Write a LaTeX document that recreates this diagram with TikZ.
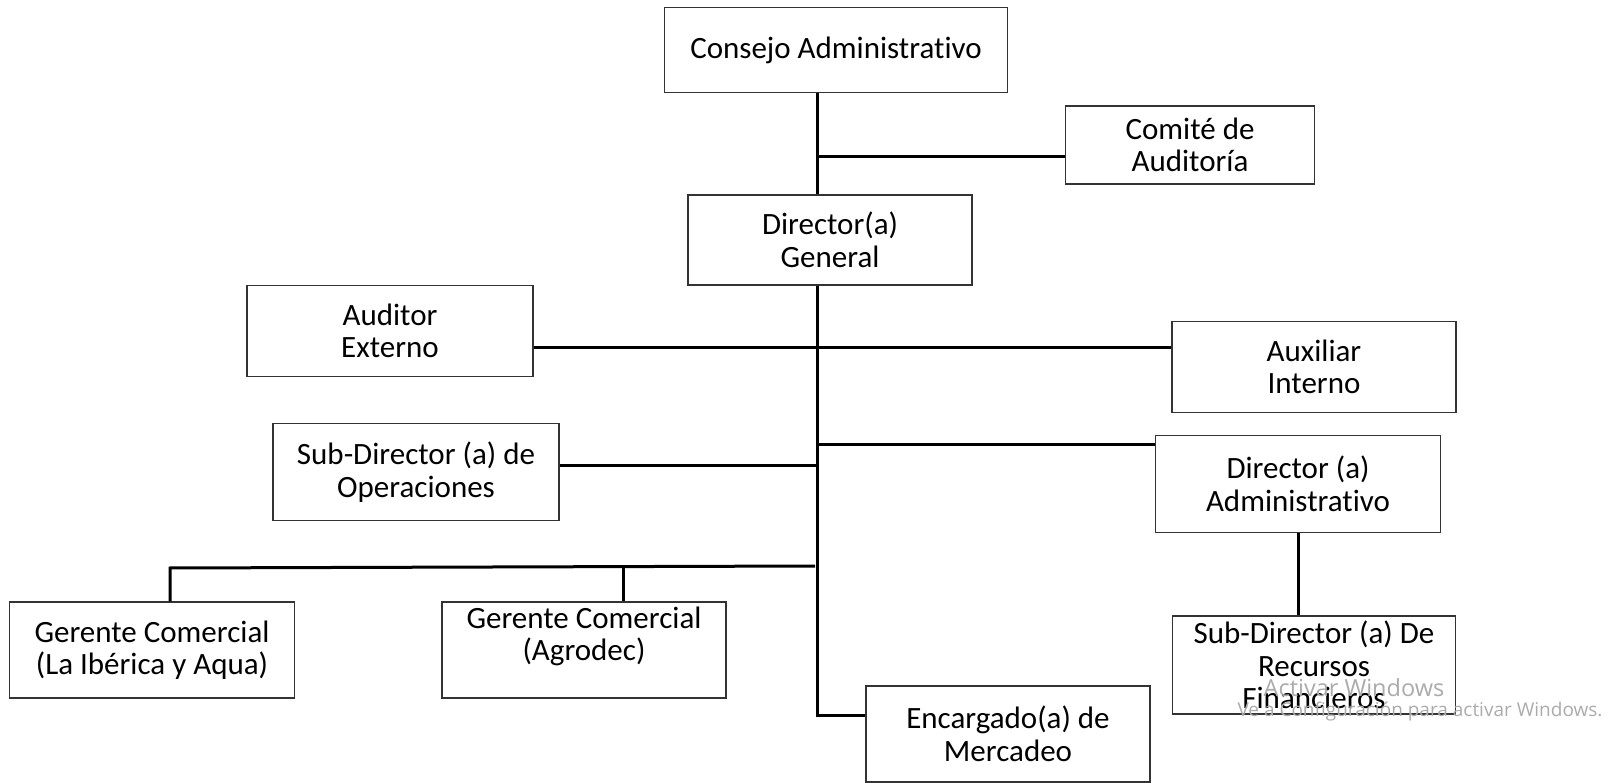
\documentclass[tikz,border=0pt]{standalone}
\usepackage{fontspec}
\setmainfont{Carlito}[Ligatures={NoCommon}]
\newfontfamily\wmfont{Open Sans}
\begin{document}
\begin{tikzpicture}[x=1pt,y=-1pt,
  box/.style={draw=black!80, line width=1.3pt, fill=white, inner sep=0pt, align=center,
    font=\fontsize{31}{32.5}\selectfont, minimum width=284pt},
  conn/.style={line width=3pt, black}]
\useasboundingbox (0,0) rectangle (1610,783);
% boxes
\node[box, minimum width=343pt, minimum height=85pt] (consejo) at (836,50) {Consejo Administrativo};
\node[box, minimum width=249pt, minimum height=78pt] (comite) at (1190,145) {Comité de\\Auditoría};
\node[box, minimum height=90pt] (dirgen) at (830,240) {Director(a)\\General};
\node[box, minimum width=286pt, minimum height=91pt] (audext) at (390,331) {Auditor\\Externo};
\node[box, minimum height=91pt] (auxint) at (1314,367) {Auxiliar\\Interno};
\node[box, minimum width=286pt, minimum height=97pt] (subop) at (416,472) {Sub-Director (a) de\\Operaciones};
\node[box, minimum width=285pt, minimum height=97pt] (diradm) at (1298,484) {Director (a)\\Administrativo};
\node[box, minimum width=285pt, minimum height=96pt] (gerib) at (152,650) {Gerente Comercial\\(La Ibérica y Aqua)};
\node[box, minimum height=96pt] (gerag) at (584,650) {Gerente Comercial\\(Agrodec)\\\mbox{}};
\node[box, minimum width=283pt, minimum height=98pt] (subrec) at (1314,665) {Sub-Director (a) De\\Recursos\\Financieros};
\node[box, minimum height=96pt] (encargado) at (1008,734) {Encargado(a) de\\Mercadeo};
% trunk coordinates
\coordinate (trunk) at (817,0);
\coordinate (trunkbot) at (817,715);
\coordinate (cjc) at (817,157);
\coordinate (ya) at (817,348);
\coordinate (yd) at (817,445);
\coordinate (ys) at (817,466);
\coordinate (gb) at (815,566);
\coordinate (gl) at (170,568);
\coordinate (gm) at (623,567);
% connectors
\draw[conn] (consejo.south -| trunk) -- (dirgen.north -| trunk);
\draw[conn] (dirgen.south -| trunk) -- (trunkbot) -- (encargado.west |- trunkbot);
\draw[conn] (cjc) -- (comite.west |- cjc);
\draw[conn] (audext.east |- ya) -- (auxint.west |- ya);
\draw[conn] (yd) -- (diradm.west |- yd);
\draw[conn] (subop.east |- ys) -- (ys);
\draw[conn] (gb) -- (gl) -- (gl |- gerib.north);
\draw[conn] (gm) -- (gm |- gerag.north);
\draw[conn] (diradm.south) -- (diradm.south |- subrec.north);
% watermark
\node[font=\wmfont\fontsize{23.5}{26}\selectfont, text=black!33, inner sep=0pt] (wm1) at (1354,688) {Activar Windows};
\node[font=\wmfont\fontsize{19}{22}\selectfont, text=black!33, inner sep=0pt] (wm2) at (1420,712) {Ve a Configuración para activar Windows.};
\end{tikzpicture}
\end{document}
